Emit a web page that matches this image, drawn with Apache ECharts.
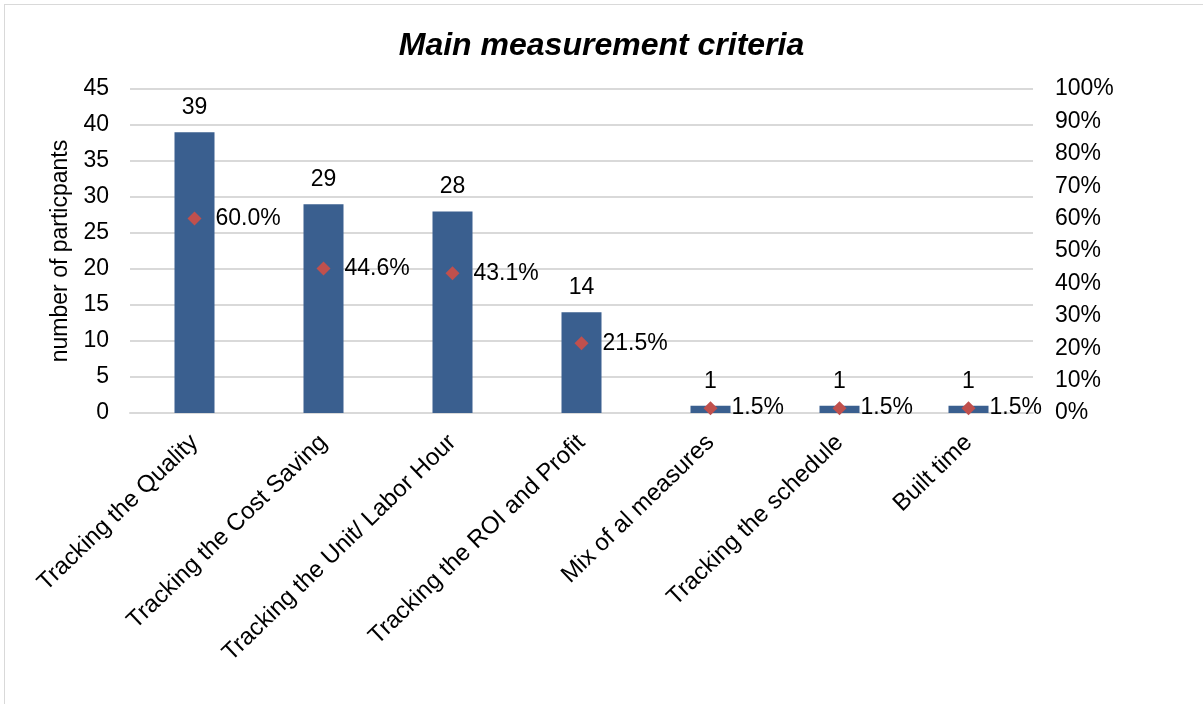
<!DOCTYPE html>
<html>
<head>
<meta charset="utf-8">
<script src="https://cdn.jsdelivr.net/npm/echarts@6/dist/echarts.min.js"></script>
<style>
  html, body { margin: 0; padding: 0; background: #fff; overflow: hidden; }
  #frame { position: absolute; left: 4px; top: 4px; width: 1300px; height: 720px; border: 1px solid #d9d9d9; box-sizing: border-box; }
  #chart { position: absolute; left: 0; top: 0; width: 1203px; height: 704px; }
</style>
</head>
<body>
<div id="frame"></div>
<div id="chart"></div>
<script>
// data
const categories = ['Tracking the Quality', 'Tracking the Cost Saving', 'Tracking the Unit/ Labor Hour',
  'Tracking the ROI and Profit', 'Mix of al measures', 'Tracking the schedule', 'Built time'];
const participants = [39, 29, 28, 14, 1, 1, 1];
const shares = [0.600, 0.446, 0.431, 0.215, 0.015, 0.015, 0.015];

const font = 'Liberation Sans, Arial, sans-serif';
const chart = echarts.init(document.getElementById('chart'));

chart.setOption({
  animation: false,
  title: {
    text: 'Main measurement criteria',
    left: 'center',
    top: 25,
    textStyle: { fontFamily: font, fontSize: 32, fontWeight: 'bold', fontStyle: 'italic', color: '#000' }
  },
  grid: { left: 130, right: 170, top: 89, bottom: 291 },
  xAxis: {
    type: 'category',
    data: categories,
    axisLine: { lineStyle: { color: '#d9d9d9', width: 2 } },
    axisTick: { show: false },
    axisLabel: { rotate: 44, interval: 0, margin: 26, fontFamily: font, fontSize: 24, color: '#000' }
  },
  yAxis: [
    {
      type: 'value',
      min: 0, max: 45, interval: 5,
      name: 'number of particpants',
      nameLocation: 'middle',
      nameGap: 54,
      nameTextStyle: { fontFamily: font, fontSize: 23, color: '#000' },
      axisLine: { show: false },
      axisTick: { show: false },
      axisLabel: { margin: 21, fontFamily: font, fontSize: 23, color: '#000' },
      splitLine: { lineStyle: { color: '#d9d9d9', width: 2 } }
    },
    {
      type: 'value',
      min: 0, max: 1, interval: 0.1,
      position: 'right',
      axisLine: { show: false },
      axisTick: { show: false },
      splitLine: { show: false },
      axisLabel: {
        margin: 22, fontFamily: font, fontSize: 23, color: '#000',
        formatter: v => Math.round(v * 100) + '%'
      }
    }
  ],
  series: [
    {
      type: 'bar',
      data: participants,
      barWidth: 40,
      itemStyle: { color: '#3a5f8f' },
      label: { show: true, position: 'top', distance: 13, fontFamily: font, fontSize: 23, color: '#000' }
    },
    {
      type: 'scatter',
      yAxisIndex: 1,
      data: shares,
      symbol: 'diamond',
      symbolSize: [14, 14],
      itemStyle: { color: '#c0504d', opacity: 1 },
      label: {
        show: true, position: 'right', distance: 14, fontFamily: font, fontSize: 23, color: '#000',
        formatter: p => (p.value * 100).toFixed(1) + '%'
      }
    }
  ]
});
</script>
</body>
</html>
